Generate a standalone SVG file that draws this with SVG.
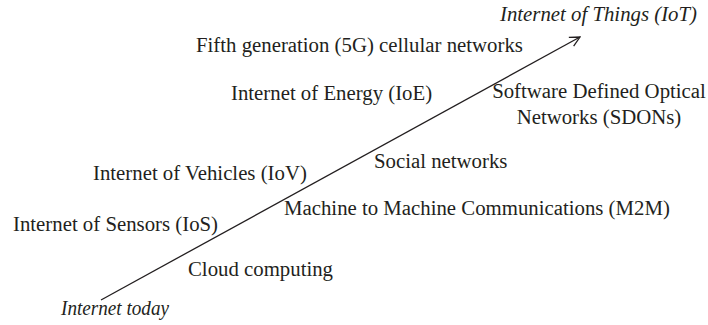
<svg xmlns="http://www.w3.org/2000/svg" width="708" height="325" viewBox="0 0 708 325">
<style>
text{font-family:"Liberation Serif","Times New Roman",serif;font-size:20.8px;fill:#231f20}
.it{font-style:italic}
.ln{stroke:#231f20;stroke-width:1.3;fill:none}
</style>
<defs>
<marker id="ah" viewBox="0 0 12 12" refX="11" refY="6" markerWidth="12" markerHeight="12" markerUnits="userSpaceOnUse" orient="auto">
<path d="M1,1 L11,6 L1,11" class="ln"/>
</marker>
</defs>
<rect width="708" height="325" fill="#fff"/>
<g id="connectors">
<line x1="101" y1="300" x2="580" y2="37" class="ln" marker-end="url(#ah)"/>
</g>
<g id="n-iot"><text class="it" x="500" y="21">Internet of Things (IoT)</text></g>
<g id="n-5g"><text x="196" y="52">Fifth generation (5G) cellular networks</text></g>
<g id="n-ioe"><text x="231" y="100">Internet of Energy (IoE)</text></g>
<g id="n-sdon"><text x="599" y="98" text-anchor="middle">Software Defined Optical</text><text x="599" y="124" text-anchor="middle">Networks (SDONs)</text></g>
<g id="n-iov"><text x="93" y="180">Internet of Vehicles (IoV)</text></g>
<g id="n-social"><text x="374" y="168">Social networks</text></g>
<g id="n-ios"><text x="13" y="231">Internet of Sensors (IoS)</text></g>
<g id="n-m2m"><text x="284" y="215">Machine to Machine Communications (M2M)</text></g>
<g id="n-cloud"><text x="188" y="276">Cloud computing</text></g>
<g id="n-today"><text class="it" x="61" y="315" textLength="108" lengthAdjust="spacingAndGlyphs">Internet today</text></g>
</svg>
